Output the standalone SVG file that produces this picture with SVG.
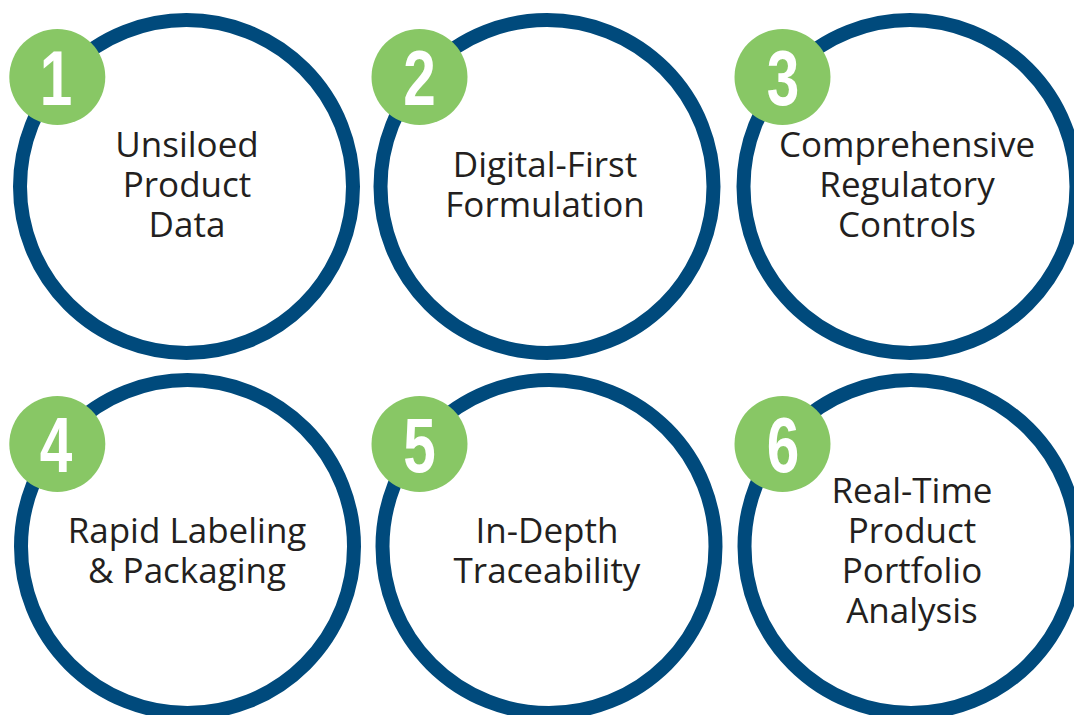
<svg xmlns="http://www.w3.org/2000/svg" width="1074" height="715" viewBox="0 0 1074 715">
<style>
.ring{fill:#ffffff;stroke:#004A7C;stroke-width:14}
.badge{fill:#88C765}
.num{font-family:"Liberation Sans",Arial,sans-serif;font-weight:bold;font-size:78px;fill:#ffffff;text-anchor:middle}
.lbl{font-family:"Open Sans","Noto Sans",sans-serif;font-size:35px;fill:#231F20;text-anchor:middle}
</style>
<rect width="1074" height="715" fill="#ffffff"/>
<g id="connectors"/>
<g id="node1">
<circle class="ring" cx="186.5" cy="186.5" r="166.5"/>
<circle class="badge" cx="57.3" cy="77" r="48"/>
<text class="num" transform="translate(56,105) scale(0.75,1)">1</text>
<text class="lbl" x="187" y="157">Unsiloed</text>
<text class="lbl" x="187" y="197">Product</text>
<text class="lbl" x="187" y="237">Data</text>
</g>
<g id="node2">
<circle class="ring" cx="547" cy="186.5" r="166.5"/>
<circle class="badge" cx="419.5" cy="77" r="48"/>
<text class="num" transform="translate(419.5,105) scale(0.75,1)">2</text>
<text class="lbl" x="545" y="177">Digital-First</text>
<text class="lbl" x="545" y="217">Formulation</text>
</g>
<g id="node3">
<circle class="ring" cx="910" cy="186.5" r="166.5"/>
<circle class="badge" cx="782.5" cy="77" r="48"/>
<text class="num" transform="translate(783,105) scale(0.75,1)">3</text>
<text class="lbl" x="907" y="157">Comprehensive</text>
<text class="lbl" x="907" y="197">Regulatory</text>
<text class="lbl" x="907" y="237">Controls</text>
</g>
<g id="node4">
<circle class="ring" cx="187.5" cy="546.5" r="166.5"/>
<circle class="badge" cx="57.3" cy="444" r="48"/>
<text class="num" transform="translate(56,472) scale(0.75,1)">4</text>
<text class="lbl" x="187" y="543">Rapid Labeling</text>
<text class="lbl" x="187" y="583">&amp; Packaging</text>
</g>
<g id="node5">
<circle class="ring" cx="549" cy="546.5" r="166.5"/>
<circle class="badge" cx="419.5" cy="444" r="48"/>
<text class="num" transform="translate(419.5,472) scale(0.75,1)">5</text>
<text class="lbl" x="547" y="543">In-Depth</text>
<text class="lbl" x="547" y="583">Traceability</text>
</g>
<g id="node6">
<circle class="ring" cx="911" cy="546.5" r="166.5"/>
<circle class="badge" cx="782.5" cy="444" r="48"/>
<text class="num" transform="translate(783,472) scale(0.75,1)">6</text>
<text class="lbl" x="912" y="503">Real-Time</text>
<text class="lbl" x="912" y="543">Product</text>
<text class="lbl" x="912" y="583">Portfolio</text>
<text class="lbl" x="912" y="623">Analysis</text>
</g>
</svg>
